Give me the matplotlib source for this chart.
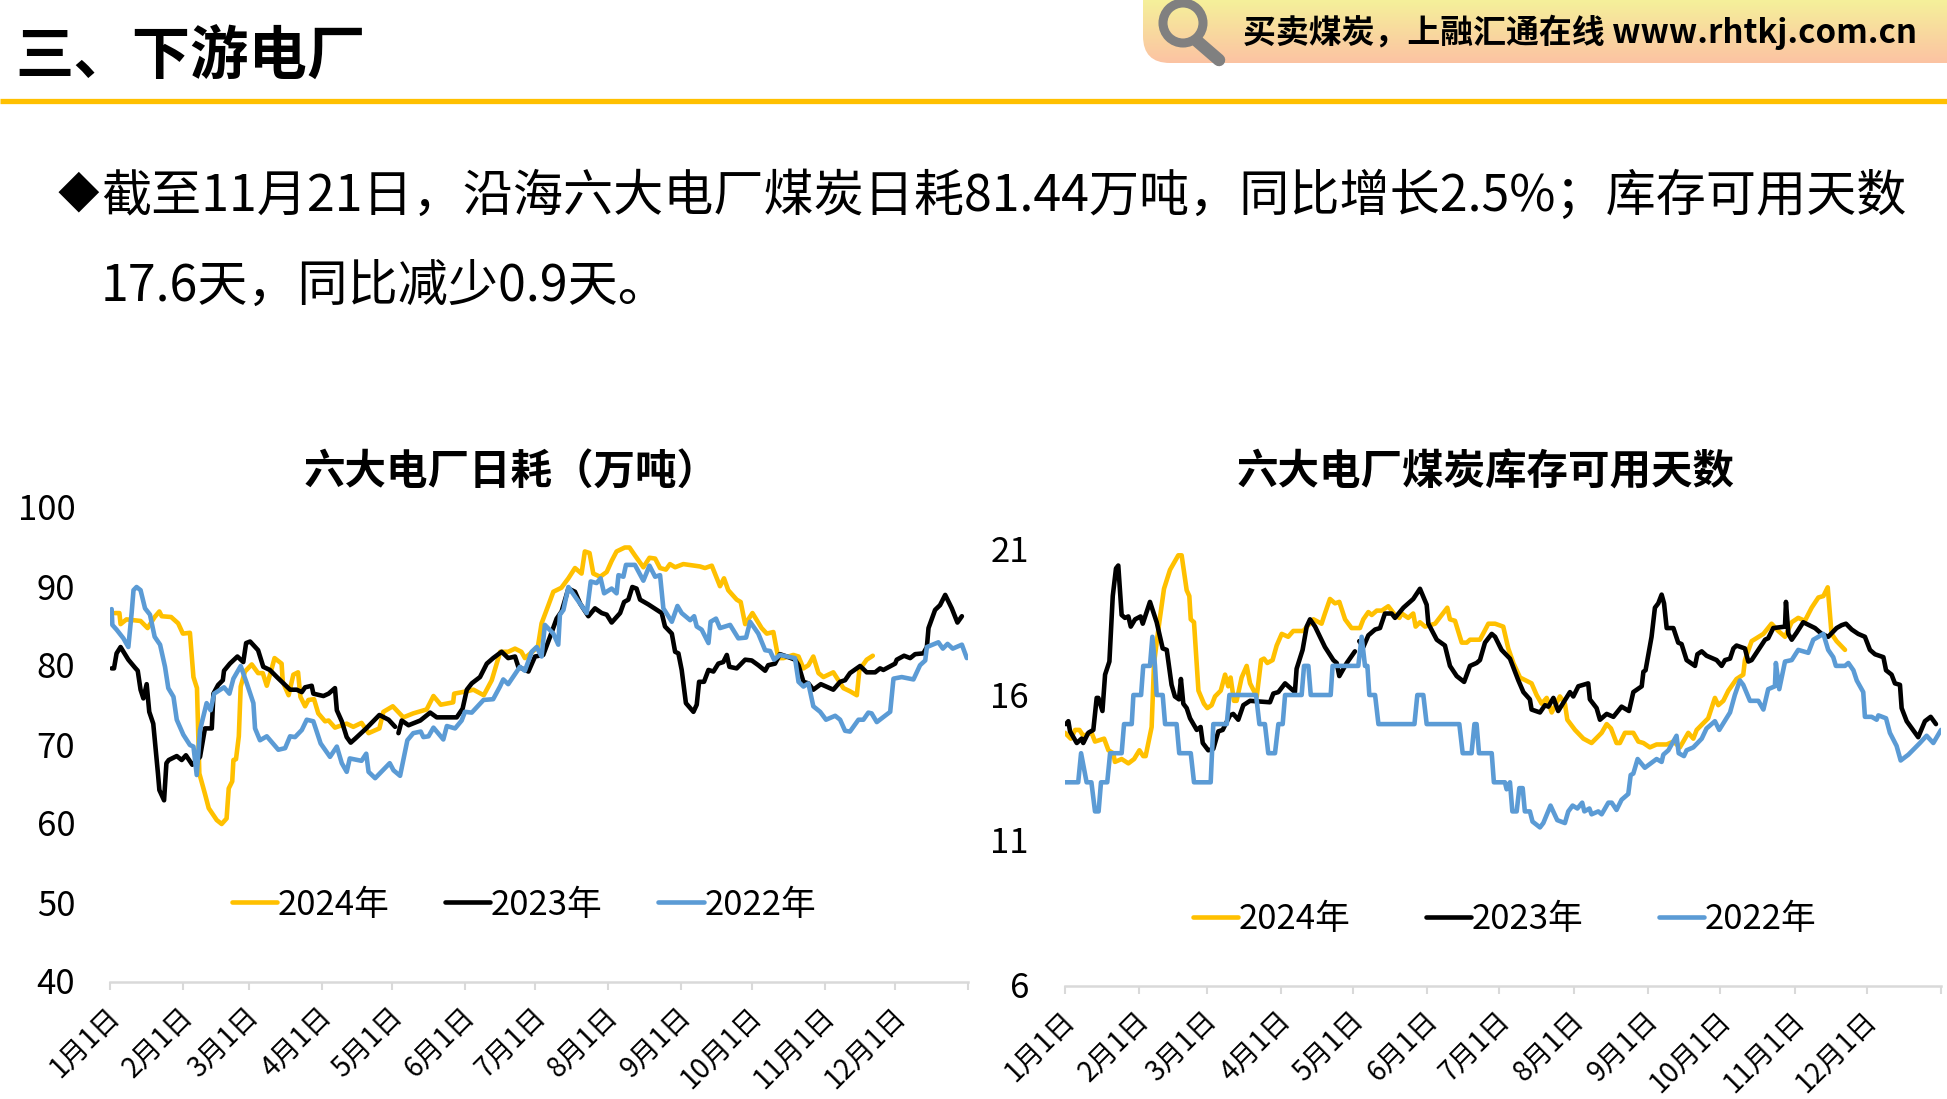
import numpy as np
import matplotlib
matplotlib.use('Agg')
import matplotlib.pyplot as plt
from matplotlib.patches import FancyBboxPatch, Circle
from matplotlib.transforms import ScaledTranslation

plt.rcParams['font.family'] = ['Noto Sans CJK SC', 'DejaVu Sans']

nan = float('nan')

# x axis
month_days = [0, 31, 59, 90, 120, 151, 181, 212, 243, 273, 304, 334, 365]
month_labels = ['1月1日', '2月1日', '3月1日', '4月1日', '5月1日', '6月1日', '7月1日',
                '8月1日', '9月1日', '10月1日', '11月1日', '12月1日', '']

# %% 日耗
burn_days_2024 = [2, 4, 4.5, 7, 13, 16, 19, 21, 22, 26, 29, 31, 34, 35.5, 37, 38, 40.5, 42, 45.4, 47.5, 49.6, 50.5, 52, 52.5, 53.6, 54.8, 55.6, 57.4, 60.3, 63, 65, 66.7, 69, 70, 73, 73.5, 76, 78, 80, 81, 83, 84.4, 86.8, 88.6, 91.5, 93, 95.7, 98.6, 100.7, 103.5, 107, 110, 114.6, 116.3, 120.3, 124.8, 129, 134.7, 137.6, 140.7, 146, 146.4, 151.8, 154.6, 159, 162.4, 166, 169.4, 172.3, 175, 176.5, 182, 183.6, 186.5, 188.6, 192, 195, 197.8, 200.6, 202, 204, 205.6, 208.5, 211.3, 213.4, 215.5, 219, 221, 223.3, 226.9, 229.5, 231.9, 234, 236.5, 238.2, 240.4, 243.9, 251, 253.1, 256, 259.5, 261.2, 263, 266.6, 268.3, 270.2, 273.3, 277.2, 279.4, 282.2, 284.3, 286.5, 290.7, 292.9, 295, 297.1, 299.2, 301.4, 303.5, 307.7, 312, 314.8, 317.7, 318.8, 321.9, 324.5]
burn_vals_2024 = [86.7, 86.7, 85.3, 85.9, 85.7, 84.8, 86.2, 86.9, 86.3, 86.2, 85.4, 84.1, 84.2, 78.6, 77.2, 66.4, 63.7, 62.0, 60.5, 60.0, 60.7, 64.5, 65.4, 68.1, 68.2, 71.1, 77.4, 79.3, 80.2, 79.1, 79.1, 77.5, 79.9, 81, 80.3, 78, 76.3, 78.9, 79.2, 76.1, 74.9, 75.7, 75.8, 74, 73, 73.1, 72.2, 72.5, 72.7, 72.3, 72.8, 71.5, 72.1, 74.2, 74.9, 73.5, 74, 74.5, 76.2, 75.1, 75.4, 76.5, 76.8, 77, 76.3, 78.2, 81.8, 81.8, 82.2, 81.8, 81, 82.4, 85.4, 87.7, 89.4, 89.9, 91.1, 92.4, 91.7, 94.5, 94.3, 91.7, 91.3, 91.9, 93.3, 94.5, 95, 95, 94, 92.5, 93.7, 93.6, 92.4, 92.2, 92.9, 92.5, 92.9, 92.6, 92.4, 92.7, 90.1, 91.1, 89.6, 88.4, 88.1, 85.3, 86.7, 84.8, 84.1, 84.3, 81, 81, 81.4, 81.2, 79.7, 80.1, 81.2, 79.1, 78.6, 79.2, 77.2, 76.8, 76.3, 79.5, 80.8, 81.3]

burn_days_2023 = [0.7, 1.7, 2.8, 4.5, 7.8, 10.6, 11.8, 13, 14.2, 15.6, 16.7, 18.4, 20.4, 21, 23, 24, 25, 28.4, 30.5, 32.3, 35, 38.3, 40.4, 43.3, 44, 46, 48, 48.5, 51, 54.2, 56.7, 57.9, 59.6, 63, 65.2, 68, 71, 73.8, 76.6, 79.4, 81.6, 83, 85.8, 86.5, 90.8, 93, 95.7, 96.5, 98.6, 100.7, 102.4, 104.3, 109, 114.6, 118.5, 121.3, 122, 122.7, 124.1, 127, 132, 136.2, 139, 147.5, 150, 151.8, 153.9, 157.4, 160.3, 163, 166.6, 169.4, 172.3, 173.7, 178, 180.8, 184.3, 187.2, 190, 192.1, 195, 197.8, 200, 203.5, 206.3, 209.2, 211.3, 213.4, 217, 218.7, 220.5, 222.2, 224, 225.5, 229, 232.6, 234.7, 236.1, 239, 240.4, 241.8, 243.2, 245, 248.2, 249.6, 250.6, 252.7, 254.6, 256.7, 258.8, 260.9, 262.4, 263.5, 266.6, 270.2, 273, 275.8, 278.7, 280, 282.9, 285, 287.9, 291.4, 292.9, 295, 297.1, 299.2, 302.4, 307.7, 310.6, 312.7, 314.8, 319.1, 321.9, 325.5, 327.6, 329, 334, 334.7, 337.8, 340.4, 342.5, 346, 347.5, 348.2, 351, 353.1, 355.3, 358.1, 360.5, 362.4]
burn_vals_2023 = [79.7, 79.7, 81.6, 82.4, 80.8, 79.8, 79.4, 77, 75.9, 77.7, 74.2, 72.7, 66.4, 64.3, 63, 67.7, 68.1, 68.6, 68.1, 68.7, 67.5, 68.5, 72.1, 72.1, 76.5, 77.6, 78.2, 79.4, 80.3, 81.2, 80.5, 82.9, 83.1, 82, 79.9, 79.5, 78.6, 77.8, 77, 77, 76.7, 77.3, 77.5, 76.5, 76.2, 76.5, 77.2, 74.4, 73, 71, 70.3, 70.8, 72.1, 73.8, 73.2, 72.3, nan, 71.5, 73.1, 72.5, 73.1, 74.1, 73.5, 73.5, 74.6, 77, 77.8, 78.6, 80.3, 81, 81.8, 81, 81.2, 79.9, 79.3, 81.2, 81.4, 83.7, 86, 86.9, 89.8, 89.4, 87.9, 86.3, 87.3, 86.7, 86.5, 85.5, 86.7, 88.1, 88.4, 90, 89.8, 88.4, 87.8, 87.1, 86.7, 85, 84.1, 81.8, 81.6, 79.5, 75.3, 74.2, 75.1, 78, 78, 79.5, 79.3, 80.3, 80.5, 81.4, 79.9, 79.7, 80.8, 80.7, 80.1, 79.4, 80.1, 80.3, 81.5, 81.2, 80.8, 80.1, 78, 77.8, 77, 77.7, 77, 78, 78.2, 79.1, 80, 79.2, 79.2, 79.7, 79.5, 80.3, 80.8, 81.3, 81, 81.5, 81.6, 82.4, 84.8, 87.1, 87.7, 89, 87.3, 85.5, 86.3]

burn_days_2022 = [0.7, 1, 2.8, 5.7, 7.8, 9.2, 10, 11.3, 13, 14.9, 17, 19, 21.3, 23.4, 24.8, 27, 28.4, 31.2, 34, 35.5, 36.9, 38.3, 41.1, 42.8, 44.3, 48.5, 50.8, 52.5, 55.6, 58.2, 61, 61.7, 63.8, 66.7, 71.6, 74.5, 76.6, 78.7, 81.6, 83.7, 86.5, 89.6, 93.6, 96.5, 98.6, 100.7, 102, 107, 109, 110, 112.8, 119, 120.6, 123.4, 126.5, 129, 132.2, 133.3, 135.5, 137.6, 141.8, 143.3, 146.8, 149.6, 151, 153.9, 158.9, 163, 165.9, 167.3, 169.4, 174.4, 176.5, 179.4, 181.5, 183.6, 185, 188.6, 190.7, 191.4, 192.9, 195, 197.8, 202.8, 204.5, 207, 208.7, 210.2, 213.4, 215.5, 216.3, 218.4, 219.5, 223.3, 226.9, 229.5, 231.9, 234, 235.4, 239, 241.4, 243.2, 246.8, 248.5, 249.6, 251.7, 254.6, 255.5, 257.8, 259.5, 263.8, 267.3, 270.6, 272.3, 275.8, 278.7, 280.8, 282.5, 285, 291.4, 292.9, 295, 297.1, 299.2, 302.1, 304.6, 308.5, 310.6, 312.7, 314.8, 318.4, 320.5, 322.6, 324, 326.2, 331.9, 333.3, 336.8, 341.8, 344.6, 346.8, 347.5, 352.4, 354.3, 356.3, 358.5, 362.4, 364.5]
burn_vals_2022 = [87.2, 85.2, 84.6, 83.5, 82.4, 86.7, 89.6, 90, 89.6, 87.3, 86.5, 83.7, 82.7, 79.9, 77.2, 76.1, 73.2, 71.3, 70, 69.8, 66.2, 71.9, 75.3, 74.4, 76.5, 77.3, 76.5, 78.4, 80, 77.8, 75.3, 72.1, 70.6, 71.1, 69.4, 69.6, 71.1, 71, 71.9, 73.2, 73, 70.2, 68.5, 69.8, 67.7, 66.6, 68.3, 68, 68.9, 66.6, 65.8, 67.7, 66.8, 66.1, 70.6, 71.5, 71.7, 71, 71.1, 72.2, 70.7, 72.4, 72.1, 73.1, 74.2, 74.1, 75.7, 75.8, 77.4, 78.3, 77.7, 79.9, 79.4, 81.8, 82.4, 81.2, 85.2, 84.1, 82.7, 86.5, 87.1, 90, 88.8, 86.7, 90.7, 90.5, 91.1, 89.2, 89.8, 89.2, 91.5, 91.3, 92.8, 92.8, 90.8, 92.7, 91.3, 91.5, 87.3, 85.6, 87.6, 86.7, 85.8, 86.3, 85, 84.6, 82.9, 85.6, 86, 84.8, 85.2, 83.5, 83.6, 85.6, 84.1, 82, 81.9, 80.8, 81.4, 81, 78, 77.4, 77.8, 74.9, 74.2, 73.2, 73.7, 73.2, 71.8, 71.7, 73.2, 73.2, 74.1, 74, 72.9, 74.2, 78.4, 78.6, 78.3, 80.1, 80.7, 82.4, 83, 82.2, 82.8, 82.2, 82.7, 81]

# %% 可用天数
stock_days_2024 = [0, 2.4, 4.2, 6, 7.6, 11.1, 12.5, 16.3, 18.1, 20.1, 20.8, 23.6, 26.4, 28.8, 31, 32.6, 33.6, 36.1, 37.1, 39.3, 41.25, 43.75, 47.2, 48.6, 50.7, 51.8, 52.4, 53.75, 55.6, 57.9, 59.3, 61.1, 62.5, 64.9, 66.7, 68, 69, 70.4, 71.5, 73.6, 75.7, 77.1, 79.9, 81.7, 82.9, 84.3, 86.5, 88.2, 90.3, 93, 95.1, 99.3, 103.5, 106.9, 108.3, 110.4, 112.5, 114.3, 116.7, 119.4, 122.9, 124.3, 126.4, 127.8, 129.9, 132, 134.7, 137.5, 139.3, 140.3, 143, 145.1, 146.1, 147.9, 150, 154.2, 159.3, 160.4, 162.5, 165.3, 167.4, 168.75, 170.8, 172.9, 176.4, 179.2, 182.6, 184.7, 186.8, 189.6, 194.4, 196.5, 198.6, 200.7, 202.8, 206.2, 208.3, 209.3, 212.5, 216, 219.4, 223.6, 225.7, 227.5, 229.8, 231.2, 233.3, 236.8, 238.9, 241, 243.7, 246.5, 250.7, 253.5, 256.2, 259.7, 261.8, 263.2, 268, 270.8, 272.2, 274.3, 276.4, 279.8, 282.6, 283.3, 286.1, 291, 294.4, 297.2, 300, 302.8, 305.5, 308.3, 311.1, 313.9, 316, 317.8, 319.4, 321.5, 325]
stock_vals_2024 = [14.7, 14.5, 14.8, 14.8, 14.6, 14.7, 14.4, 14.5, 14.1, 14, 13.7, 13.8, 13.65, 13.8, 14.1, 13.9, 13.9, 14.9, 17.1, 18.5, 19.65, 20.3, 20.8, 20.8, 19.6, 19.4, 18.6, 18.5, 16.15, 15.7, 15.55, 15.65, 15.95, 16.15, 16.7, 16.3, 16.6, 15.8, 15.8, 16.6, 17, 16.4, 15.95, 17.2, 17.25, 17.1, 17.2, 17.7, 18.1, 18, 18.2, 18.2, 18.6, 18.45, 18.8, 19.3, 19.15, 19.2, 18.6, 18.3, 18.3, 18.6, 18.85, 18.75, 18.9, 18.9, 19.05, 18.75, 18.65, 18.8, 18.65, 18.8, 18.35, 18.5, 18.35, 18.45, 19, 18.6, 18.55, 17.8, 17.8, 17.9, 17.9, 17.9, 18.45, 18.45, 18.35, 17.6, 17.1, 16.6, 16.4, 16, 15.7, 15.9, 15.4, 15.95, 15.7, 15.15, 14.8, 14.5, 14.35, 14.7, 15, 14.85, 14.35, 14.35, 14.7, 14.7, 14.4, 14.35, 14.2, 14.3, 14.3, 14.4, 14.2, 14.7, 14.5, 14.8, 15.2, 15.9, 15.65, 15.8, 16.15, 16.55, 16.7, 17.2, 17.85, 18.1, 18.45, 18.2, 18, 18.5, 18.65, 18.55, 19, 19.35, 19.4, 19.7, 18.1, 17.85, 17.55]

stock_days_2023 = [0.4, 1.4, 2.1, 4.9, 6.9, 7.6, 9.7, 11.8, 13.2, 13.9, 15.6, 16.7, 18.5, 19.9, 21.25, 22.2, 23.6, 25, 26.4, 27.4, 29.2, 31.5, 32.4, 35.4, 38.2, 40.7, 42.4, 44.4, 45.8, 47.5, 48.3, 49.3, 50.7, 52.1, 54.9, 56.5, 57.4, 59.7, 61.8, 63.9, 65.7, 68.75, 70.1, 72.2, 74.3, 77.1, 85.4, 86.8, 88.9, 91.7, 95.8, 96.5, 99, 100.7, 102.1, 104.2, 108.3, 111.8, 113.2, 114.3, 117.4, 120.8, 121.7, 122.6, 124.3, 126.4, 129.2, 131.25, 133.3, 136.1, 137.5, 141, 145.1, 147.9, 150.7, 151.4, 154.9, 158.3, 160.4, 163.2, 166.3, 168.75, 171.5, 172.9, 175, 177.8, 179.2, 181.9, 185.4, 188.9, 191, 193.7, 194.4, 197.9, 200, 201.4, 203.5, 205.5, 210.4, 211.8, 213.9, 218, 218.7, 221.5, 222.9, 225.7, 228.5, 231.9, 235, 236.8, 240.3, 241, 241.9, 244.4, 245.8, 247.2, 248.6, 249.6, 250.7, 253.5, 255.5, 256.9, 259, 262.5, 263.5, 265.3, 267.3, 271.5, 273.6, 275, 277.1, 278.5, 279.8, 283.3, 284.7, 286.1, 288.9, 291.7, 293, 295.1, 300, 300.4, 301.4, 302.8, 304.9, 307.6, 312.5, 315.3, 318, 321.5, 323.6, 325.4, 327.8, 330.5, 333.3, 335.4, 337.5, 341, 342.1, 344.4, 345.8, 347.9, 348.6, 350.7, 355.5, 358.3, 360.7, 362.9]
stock_vals_2023 = [15, 15.1, 14.75, 14.35, 14.5, 14.35, 14.7, 14.8, 15.9, 15.9, 15.45, 16.7, 17.15, 19.4, 20.35, 20.45, 18.75, 18.65, 18.7, 18.35, 18.6, 18.7, 18.45, 19.2, 18.5, 17.6, 17.55, 16.35, 15.95, 15.85, 16.55, 15.7, 15.55, 15.2, 14.8, 14.9, 14.35, 14.1, 14.15, 14.75, 14.8, 15.3, 15.35, 15.15, 15.65, 15.8, 15.75, 16.05, 16.1, 16.4, 16.1, 16.9, 17.55, 18.35, 18.6, 18.35, 17.65, 17.2, 17.1, 16.65, 17.1, 17.5, nan, 17.85, 17.65, 18.05, 18.25, 18.3, 18.8, 18.8, 18.65, 19, 19.3, 19.65, 19.1, 18.45, 17.9, 17.7, 17, 16.65, 16.45, 17, 17.1, 17.2, 17.8, 18.1, 18, 17.55, 17.25, 16.5, 16.1, 15.85, 15.5, 15.4, 15.65, 15.6, 15.9, 15.45, 16.1, 15.95, 16.3, 16.4, 15.85, 15.55, 15.15, 15.35, 15.25, 15.6, 15.45, 16.1, 16.3, 16.8, 16.85, 18, 19, 19.15, 19.45, 19.15, 18.3, 18.3, 17.8, 17.75, 17.2, 17, 17.4, 17.5, 17.35, 17.2, 17, 17.2, 17.25, 17.6, 17.7, 17.6, 17.15, 17.2, 17.55, 17.9, 17.95, 18.3, 18.35, 19.2, 18.1, 17.9, 18.15, 18.5, 18.3, 18.1, 18, 18.3, 18.4, 18.45, 18.25, 18.1, 18, 17.55, 17.4, 17.3, 16.85, 16.7, 16.4, 16.35, 15.55, 15.1, 14.55, 15.1, 15.25, 15]

stock_days_2022 = [0, 5.5, 6.7, 9, 11, 12.5, 14, 15, 17.6, 18.8, 23.6, 24.6, 27.8, 28.5, 31.7, 32.6, 35.4, 36.4, 37.5, 38.2, 40.7, 41.7, 46.5, 47.6, 52.4, 53.75, 60.7, 61.8, 67.4, 68.5, 79.6, 81, 83.3, 84.7, 87.5, 88.9, 90.7, 91.7, 98.6, 99.6, 101.4, 102.4, 110.7, 111.5, 122.2, 123.6, 125, 126, 126.8, 129.2, 130.6, 145.6, 146.8, 149.3, 150.7, 164.3, 165.7, 169.4, 170.6, 171.5, 172.5, 177.8, 178.7, 183.3, 184, 185.4, 186.4, 188.2, 189.3, 190.7, 191.6, 193.7, 194.8, 197.9, 199.3, 202.3, 205.1, 208.3, 209.7, 211.5, 213.5, 215.5, 216.4, 218.5, 219.4, 222.2, 223.6, 226.4, 227.8, 229.8, 231.9, 234.7, 235.7, 236.8, 238.6, 241.6, 246.5, 248.6, 249.3, 251.4, 254.8, 255.7, 257.9, 259, 261.8, 265.3, 267.3, 270.8, 272.6, 277.1, 279.1, 281.2, 282.6, 285.4, 288.9, 291, 293, 295.8, 296.2, 297.6, 300, 302.8, 305.5, 307.6, 309.7, 311.8, 316, 318, 320.1, 321.2, 325, 326.4, 328.5, 329.9, 332.6, 333.3, 336.1, 338.2, 338.9, 342.1, 343.7, 346.5, 348.2, 351.4, 356.2, 359, 361.8, 365]
stock_vals_2022 = [13, 13, 14, 13, 13, 12, 12, 13, 13, 14, 14, 15, 15, 16, 16, 17, 17, 18, 17, 16, 16, 15, 15, 14, 14, 13, 13, 15, 15, 16, 16, 15, 15, 14, 14, 15, 15, 16, 16, 17, 17, 16, 16, 17, 17, 18, 17, 17, 16, 16, 15, 15, 16, 16, 15, 15, 14, 14, 15, 15, 14, 14, 13, 13, 12.76, 13, 12, 12, 12.8, 12.8, 12, 12, 11.65, 11.45, 11.6, 12.2, 11.7, 11.6, 12, 12.2, 12.1, 12.3, 12, 12.1, 11.9, 12, 11.9, 12.3, 12.3, 12.05, 12.4, 12.6, 13.25, 13.3, 13.8, 13.5, 13.8, 13.7, 13.95, 14.1, 14.6, 14, 13.9, 14.1, 14.2, 14.5, 14.85, 15.1, 14.8, 15.4, 16, 16.5, 16.35, 15.8, 15.8, 15.5, 16.2, 16.3, 17.1, 16.2, 17.15, 17.2, 17.55, 17.5, 17.45, 17.9, 18.1, 17.55, 17.3, 17, 17, 17.1, 16.85, 16.5, 16.1, 15.25, 15.25, 15.15, 15.3, 15.2, 14.7, 14.25, 13.75, 13.95, 14.35, 14.6, 14.35, 14.8]

burn_ticks = [40, 50, 60, 70, 80, 90, 100]
stock_ticks = [6, 11, 16, 21]

YELLOW = '#FFC000'
BLUE = '#5B9BD5'
W, H = 1947, 1099


def add_axes_px(fig, x0, x1, y_top, y_bottom):
    return fig.add_axes([x0 / W, 1 - y_bottom / H, (x1 - x0) / W, (y_bottom - y_top) / H])


def draw_chart(ax, series, ylim, yticks, tick_pad, legend_x, legend_y, col_space):
    for days, vals, color, label in series:
        ax.plot(days, vals, color=color, lw=3.3, label=label, solid_joinstyle='round',
                solid_capstyle='round')
    ax.set_xlim(0, 365)
    ax.set_ylim(*ylim)
    ax.set_yticks(yticks)
    ax.set_xticks(month_days)
    ax.set_xticklabels(month_labels, rotation=45, ha='right', va='top',
                       rotation_mode='anchor', fontsize=20)
    ax.tick_params(axis='y', length=0, labelsize=25, pad=tick_pad)
    ax.tick_params(axis='x', length=6, width=1.5, color='#D9D9D9', pad=8)
    # 文字微调
    shift_x = ScaledTranslation(-5 / 100, 0, ax.figure.dpi_scale_trans)
    shift_y = ScaledTranslation(0, 1 / 100, ax.figure.dpi_scale_trans)
    for lab in ax.get_xticklabels():
        lab.set_transform(lab.get_transform() + shift_x)
    for lab in ax.get_yticklabels():
        lab.set_transform(lab.get_transform() + shift_y)
    for name in ['top', 'right', 'left']:
        ax.spines[name].set_visible(False)
    ax.spines['bottom'].set_color('#D9D9D9')
    ax.spines['bottom'].set_linewidth(1.8)
    ax.legend(loc='center left', bbox_to_anchor=(legend_x / W, 1 - legend_y / H),
              bbox_transform=ax.figure.transFigure, ncol=3, frameon=False, fontsize=25,
              handlelength=1.3, handletextpad=0.02, columnspacing=col_space,
              borderpad=0, borderaxespad=0)


fig = plt.figure(figsize=(W / 100, H / 100), dpi=100, facecolor='white')

# 页面背景层，用像素坐标
bg = fig.add_axes([0, 0, 1, 1])
bg.set_xlim(0, W)
bg.set_ylim(H, 0)
bg.axis('off')

grad = np.linspace(0, 1, 64)[:, None, None]
top_c = np.array(matplotlib.colors.to_rgb('#F5F09A'))
bot_c = np.array(matplotlib.colors.to_rgb('#FCC3A3'))
im = bg.imshow(top_c + grad * (bot_c - top_c), extent=(1143, W, 63, 0), aspect='auto', zorder=1)
clip = FancyBboxPatch((1170, -30), 900, 66, boxstyle='round,pad=27,rounding_size=27',
                      transform=bg.transData, fc='none', ec='none')
bg.add_patch(clip)
im.set_clip_path(clip)
bg.set_xlim(0, W)
bg.set_ylim(H, 0)

bg.add_patch(Circle((1183, 23), 20, fc='none', ec='#808080', lw=6.5, zorder=3, clip_on=False))
bg.plot([1197, 1219], [41, 60], color='#808080', lw=9, solid_capstyle='round', zorder=3)
bg.text(1243, 32, '买卖煤炭，上融汇通在线 www.rhtkj.com.cn', fontsize=23.7, fontweight='bold',
        va='center', ha='left', zorder=4)

bg.plot([0, W], [100.5, 100.5], color=YELLOW, lw=3.8, solid_capstyle='butt')
bg.text(15, 58, '三、下游电厂', fontsize=42, fontweight='bold', va='center', ha='left')

bg.text(58, 196, '◆', fontsize=30, va='center', ha='left')
bg.text(101, 197, '截至11月21日，沿海六大电厂煤炭日耗81.44万吨，同比增长2.5%；库存可用天数',
        fontsize=36.1, va='center', ha='left')
bg.text(101, 287, '17.6天，同比减少0.9天。', fontsize=36.1, va='center', ha='left')

bg.text(511, 473, '六大电厂日耗（万吨）', fontsize=29.9, fontweight='bold', va='center', ha='center')
bg.text(1486, 473, '六大电厂煤炭库存可用天数', fontsize=29.9, fontweight='bold', va='center', ha='center')

# 左图
ax1 = add_axes_px(fig, 110, 968, 508, 982)
ax1.patch.set_alpha(0)
draw_chart(ax1, [(burn_days_2024, burn_vals_2024, YELLOW, '2024年'),
                 (burn_days_2023, burn_vals_2023, 'black', '2023年'),
                 (burn_days_2022, burn_vals_2022, BLUE, '2022年')],
           (40, 100), burn_ticks, 25, 232, 905, 1.6)

# 右图
ax2 = add_axes_px(fig, 1065, 1941, 549.5, 986)
ax2.patch.set_alpha(0)
draw_chart(ax2, [(stock_days_2024, stock_vals_2024, YELLOW, '2024年'),
                 (stock_days_2023, stock_vals_2023, 'black', '2023年'),
                 (stock_days_2022, stock_vals_2022, BLUE, '2022年')],
           (6, 21), stock_ticks, 26, 1193, 920, 2.17)

fig.savefig('out.png', dpi=100)
